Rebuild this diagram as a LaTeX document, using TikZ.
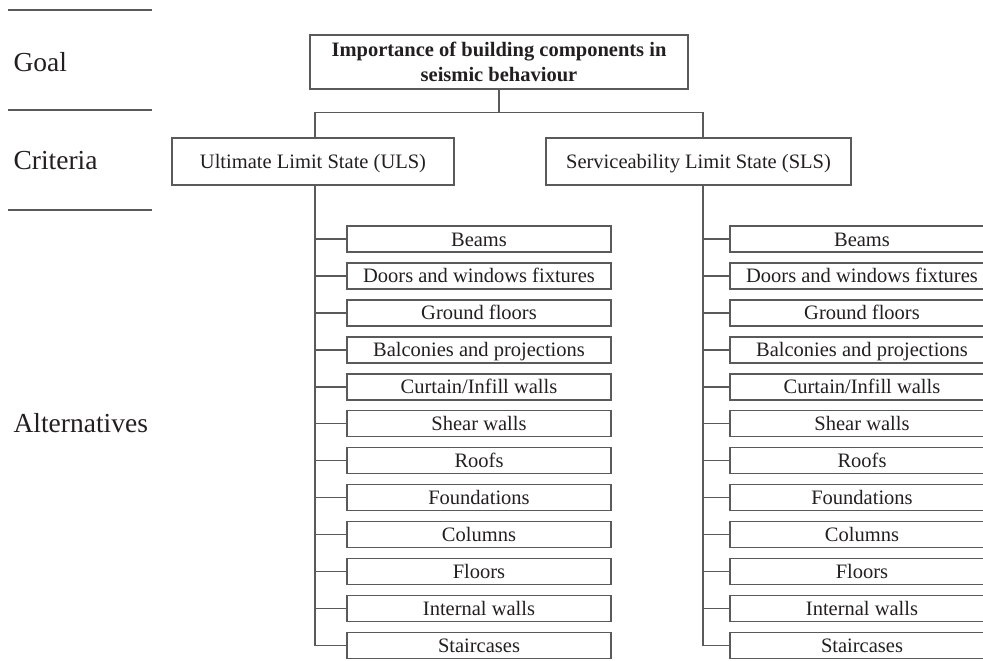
\documentclass[tikz,border=0pt]{standalone}
\usepackage{fontspec}
\setmainfont{Liberation Serif}
\usepackage{tikz}
\usetikzlibrary{positioning}
\definecolor{ink}{HTML}{231F20}
\definecolor{rule}{HTML}{5A5A5A}

\begin{document}
\begin{tikzpicture}[x=1pt,y=-1pt,
  box/.style={draw=rule,line width=1.4pt,inner sep=0pt,text=ink,font=\fontsize{20.5}{25}\selectfont},
  line/.style={text height=14,text depth=0},
  alt/.style={box,line,minimum width=264,minimum height=26},
  level/.style={text=ink,anchor=west,font=\fontsize{27.5}{30}\selectfont},
  link/.style={draw=rule,line width=1.4pt}]
  \clip (0,0) rectangle (983,661);
  \draw[link] (8,10) -- (152,10) (8,110) -- (152,110) (8,210) -- (152,210);
  \node[level] (lgoal) at (10,62) {Goal};
  \node[level] (lcrit) at (10,161) {Criteria};
  \node[level] (lalt) at (10,423) {Alternatives};
  \node[box,minimum width=378,minimum height=54,align=center,font=\bfseries\fontsize{20.5}{25}\selectfont] (goal) at (499,62)
    {Importance of building components in\\seismic behaviour};
  \node[box,line,minimum width=282,minimum height=47] (uls) at (313,161.5) {Ultimate Limit State (ULS)};
  \node[box,line,minimum width=305,minimum height=47] (sls) at (698.5,161.5) {Serviceability Limit State (SLS)};
  \draw[link] (goal.south) -- ++(0,23) -| ([xshift=2]uls.north);
  \draw[link] (goal.south) -- ++(0,23) -| ([xshift=4.5]sls.north);
  \foreach \t [count=\i] in {Beams,Doors and windows fixtures,Ground floors,
      Balconies and projections,Curtain/Infill walls,Shear walls,Roofs,
      Foundations,Columns,Floors,Internal walls,Staircases} {
    \node[alt] (uls\i) at (479,239+36.95*\i-36.95) {\t};
    \node[alt] (sls\i) at (862,239+36.95*\i-36.95) {\t};
    \draw[link] ([xshift=2]uls.south) |- (uls\i.west);
    \draw[link] ([xshift=4.5]sls.south) |- (sls\i.west);
  }
\end{tikzpicture}
\end{document}
